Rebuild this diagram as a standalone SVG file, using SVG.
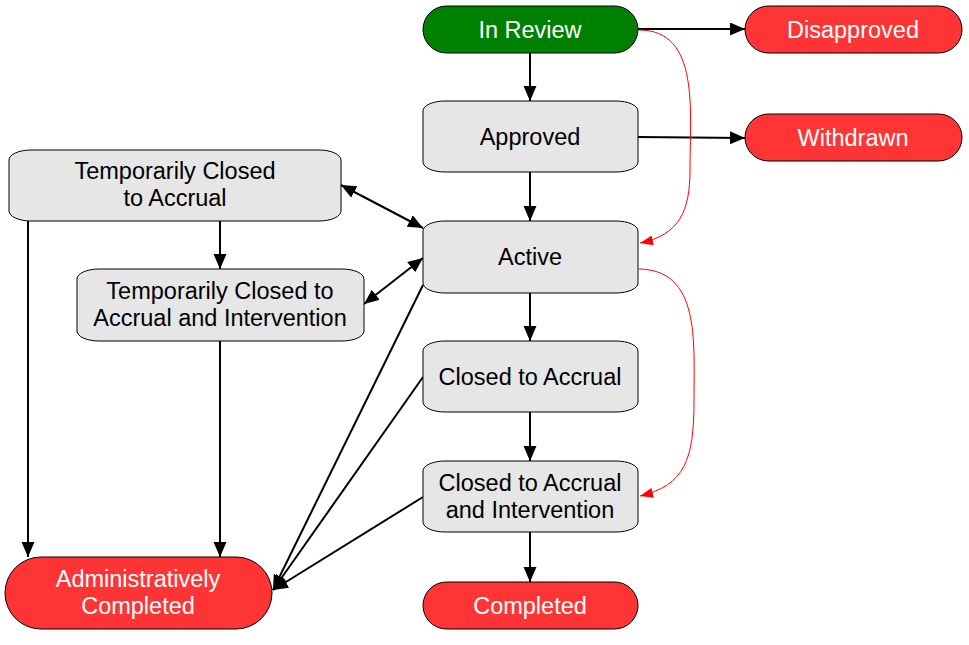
<svg xmlns="http://www.w3.org/2000/svg" width="969" height="645" viewBox="0 0 969 645">
<defs>
<marker id="ah" markerUnits="userSpaceOnUse" markerWidth="16" markerHeight="14" refX="15" refY="6.5" orient="auto-start-reverse"><path d="M0,0 L15,6.5 L0,13 Z" fill="#000"/></marker>
<marker id="ahr" markerUnits="userSpaceOnUse" markerWidth="14" markerHeight="10" refX="13" refY="5" orient="auto"><path d="M0,0 L13,5 L0,10 Z" fill="#ff0000"/></marker>
<style>
.box{fill:#e6e6e6;stroke:#000;stroke-width:1}
.red{fill:#ff3535;stroke:#000;stroke-width:1}
.grn{fill:#008000;stroke:#000;stroke-width:1}
text{font-family:"Liberation Sans",Arial,sans-serif;font-size:23.5px;text-anchor:middle}
.w{fill:#fff}
.b{fill:#000}
.e{fill:none;stroke:#000;stroke-width:2}
.r{fill:none;stroke:#ff0000;stroke-width:1}
</style>
</defs>
<g id="connectors">
<line class="e" x1="530" y1="53" x2="530" y2="101" marker-end="url(#ah)"/>
<line class="e" x1="638" y1="29" x2="745" y2="29" marker-end="url(#ah)"/>
<line class="e" x1="638" y1="137" x2="745" y2="138" marker-end="url(#ah)"/>
<line class="e" x1="530" y1="172" x2="530" y2="221" marker-end="url(#ah)"/>
<line class="e" x1="530" y1="293" x2="530" y2="341" marker-end="url(#ah)"/>
<line class="e" x1="530" y1="412" x2="530" y2="461" marker-end="url(#ah)"/>
<line class="e" x1="530" y1="532" x2="530" y2="582" marker-end="url(#ah)"/>
<line class="e" x1="341" y1="185" x2="423" y2="228" marker-start="url(#ah)" marker-end="url(#ah)"/>
<line class="e" x1="364" y1="304" x2="423" y2="258" marker-start="url(#ah)" marker-end="url(#ah)"/>
<line class="e" x1="220" y1="221" x2="220" y2="269" marker-end="url(#ah)"/>
<line class="e" x1="28" y1="221" x2="28" y2="557" marker-end="url(#ah)"/>
<line class="e" x1="220" y1="341" x2="220" y2="557" marker-end="url(#ah)"/>
<line class="e" x1="423" y1="285" x2="273" y2="590" marker-end="url(#ah)"/>
<line class="e" x1="423" y1="377" x2="273" y2="590" marker-end="url(#ah)"/>
<line class="e" x1="423" y1="497" x2="273" y2="590" marker-end="url(#ah)"/>
<path class="r" d="M639,30 C700,30 690,110 690,170 C690,210 680,235 640,243" marker-end="url(#ahr)"/>
<path class="r" d="M639,269 C700,270 694,340 694,400 C694,460 685,485 640,496" marker-end="url(#ahr)"/>
</g>
<g id="in-review"><rect class="grn" x="423" y="6" width="215" height="47" rx="23.5"/><text class="w" x="530" y="38">In Review</text></g>
<g id="disapproved"><rect class="red" x="745" y="6" width="217" height="47" rx="23.5"/><text class="w" x="853" y="38">Disapproved</text></g>
<g id="approved"><rect class="box" x="423" y="101" width="215" height="71" rx="22" ry="10"/><text class="b" x="530" y="145">Approved</text></g>
<g id="withdrawn"><rect class="red" x="745" y="114" width="217" height="47" rx="23.5"/><text class="w" x="853" y="146">Withdrawn</text></g>
<g id="active"><rect class="box" x="423" y="221" width="215" height="72" rx="22" ry="10"/><text class="b" x="530" y="265">Active</text></g>
<g id="temp-closed-accrual"><rect class="box" x="9" y="150" width="332" height="71" rx="22" ry="10"/><text class="b" x="175" y="179">Temporarily Closed</text><text class="b" x="175" y="206">to Accrual</text></g>
<g id="temp-closed-accrual-intervention"><rect class="box" x="77" y="269" width="287" height="72" rx="22" ry="10"/><text class="b" x="220" y="299">Temporarily Closed to</text><text class="b" x="220" y="326">Accrual and Intervention</text></g>
<g id="closed-accrual"><rect class="box" x="423" y="341" width="215" height="71" rx="22" ry="10"/><text class="b" x="530" y="385">Closed to Accrual</text></g>
<g id="closed-accrual-intervention"><rect class="box" x="423" y="461" width="215" height="71" rx="22" ry="10"/><text class="b" x="530" y="491">Closed to Accrual</text><text class="b" x="530" y="518">and Intervention</text></g>
<g id="admin-completed"><rect class="red" x="5" y="557" width="267" height="72" rx="36"/><text class="w" x="138" y="587">Administratively</text><text class="w" x="138" y="614">Completed</text></g>
<g id="completed"><rect class="red" x="423" y="582" width="215" height="47" rx="23.5"/><text class="w" x="530" y="614">Completed</text></g>
</svg>
